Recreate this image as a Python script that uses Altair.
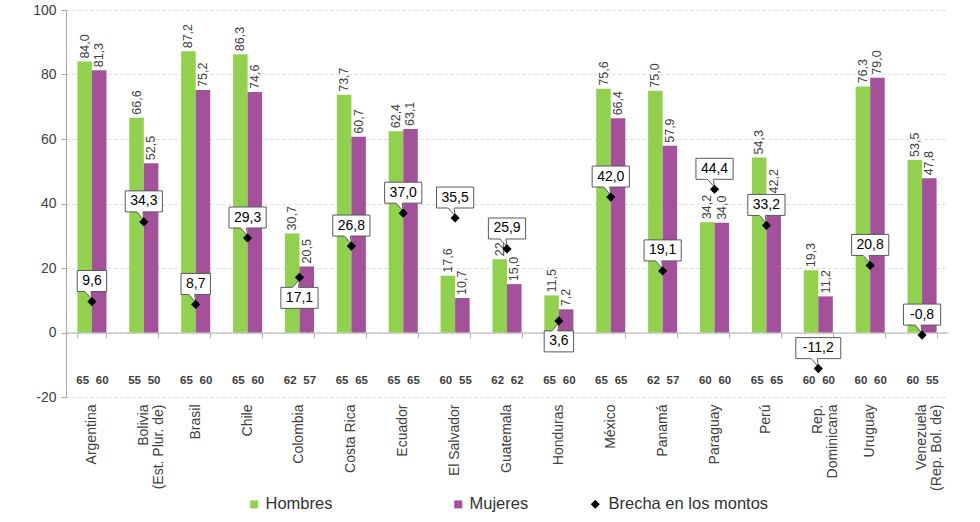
import altair as alt
import pandas as pd

paises = ["Argentina", "Bolivia (Est. Plur. de)", "Brasil", "Chile", "Colombia",
          "Costa Rica", "Ecuador", "El Salvador", "Guatemala", "Honduras", "México",
          "Panamá", "Paraguay", "Perú", "Rep. Dominicana", "Uruguay",
          "Venezuela (Rep. Bol. de)"]
hombres = [84.0, 66.6, 87.2, 86.3, 30.7, 73.7, 62.4, 17.6, 22.7, 11.5, 75.6, 75.0,
           34.2, 54.3, 19.3, 76.3, 53.5]
mujeres = [81.3, 52.5, 75.2, 74.6, 20.5, 60.7, 63.1, 10.7, 15.0, 7.2, 66.4, 57.9,
           34.0, 42.2, 11.2, 79.0, 47.8]
brecha = [9.6, 34.3, 8.7, 29.3, 17.1, 26.8, 37.0, 35.5, 25.9, 3.6, 42.0, 19.1,
          44.4, 33.2, -11.2, 20.8, -0.8]
edad_hombres = [65, 55, 65, 65, 62, 65, 65, 60, 62, 65, 65, 62, 60, 65, 60, 60, 60]
edad_mujeres = [60, 50, 60, 60, 57, 65, 65, 55, 62, 60, 65, 57, 60, 65, 60, 60, 55]
yticks = [-20, 0, 20, 40, 60, 80, 100]

GREEN = "#92D050"
PURPLE = "#A4519B"
TXT = "#404040"
FONT = "Liberation Sans"

n = len(paises)
barras = pd.DataFrame({
    "pais": paises * 2,
    "sexo": ["Hombres"] * n + ["Mujeres"] * n,
    "valor": hombres + mujeres,
    "edad": edad_hombres + edad_mujeres,
})
brechas = pd.DataFrame({"pais": paises, "brecha": brecha})

label_expr = ("datum.label == 'Rep. Dominicana' ? ['Rep.', 'Dominicana'] : "
              "(indexof(datum.label, ' (') > 0 ? "
              "[slice(datum.label, 0, indexof(datum.label, ' (')), "
              "slice(datum.label, indexof(datum.label, ' (') + 1)] : datum.label)")

x_main = alt.X("pais:N", sort=paises,
               scale=alt.Scale(paddingInner=0.44, paddingOuter=0.22),
               axis=alt.Axis(orient="bottom", labelAngle=270, labelAlign="right",
                             labelBaseline="middle", labelPadding=7, labelFontSize=14,
                             labelColor=TXT, labelFont=FONT, ticks=False, domain=False,
                             grid=False, title=None, labelExpr=label_expr,
                             labelLimit=200, labelLineHeight=15))
x_plain = alt.X("pais:N", sort=paises, axis=None)
x_zero = alt.X("pais:N", sort=paises,
               axis=alt.Axis(orient="bottom", offset=-64.5, labels=False, ticks=True,
                             tickBand="extent", domain=True, domainColor="#b0b0b0",
                             tickColor="#b0b0b0", tickSize=5, grid=False, title=None))
xoff = alt.XOffset("sexo:N", sort=["Hombres", "Mujeres"],
                   scale=alt.Scale(paddingInner=0, paddingOuter=0))

y_main = alt.Y("valor:Q", scale=alt.Scale(domain=[-20, 100], nice=False),
               axis=alt.Axis(values=yticks, grid=True, gridDash=[3, 3],
                             gridColor="#d9d9d9", domainColor="#a6a6a6",
                             tickColor="#a6a6a6", tickSize=5, labelFontSize=14,
                             labelColor=TXT, labelFont=FONT, labelPadding=5,
                             labelExpr="toString(datum.value)", title=None))

bars = alt.Chart(barras).mark_bar().encode(
    x=x_main, xOffset=xoff, y=y_main,
    color=alt.Color("sexo:N",
                    scale=alt.Scale(domain=["Hombres", "Mujeres"], range=[GREEN, PURPLE]),
                    legend=alt.Legend(orient="none", legendX=180, legendY=486,
                                      direction="horizontal", title=None,
                                      symbolType="square", symbolSize=64,
                                      symbolStrokeWidth=0, labelFontSize=16.5,
                                      labelFont=FONT, labelColor="#333333",
                                      columnPadding=117, labelOffset=3)),
)

vals = alt.Chart(barras).transform_calculate(
    lab="replace(format(datum.valor, '.1f'), '.', ',')"
).mark_text(angle=270, align="left", baseline="middle", dx=3, fontSize=12.5,
            color=TXT, font=FONT).encode(
    x=x_plain, xOffset=xoff, y=alt.Y("valor:Q", title=None), text="lab:N")

ages_h = alt.Chart(barras).transform_filter("datum.sexo == 'Hombres'").mark_text(
    fontSize=11.5, fontWeight="bold", color=TXT, baseline="middle", font=FONT, dx=-2
).encode(x=x_zero, xOffset=xoff, y=alt.datum(-15), text="edad:N")

ages_m = alt.Chart(barras).transform_filter("datum.sexo == 'Mujeres'").mark_text(
    fontSize=11.5, fontWeight="bold", color=TXT, baseline="middle", font=FONT, dx=3
).encode(x=x_plain, xOffset=xoff, y=alt.datum(-15), text="edad:N")

fmt = "replace(replace(format(datum.brecha, '.1f'), '.', ','), '\u2212', '-')"
abajo = "(datum.pais == 'Colombia' || datum.pais == 'Honduras')"

boxes = alt.Chart(brechas).transform_calculate(
    lab=fmt,
    s=abajo + " ? 1 : -1",
).transform_calculate(
    hw="(length(datum.lab) * 7.8 + 6) / 100"
).transform_calculate(
    path=("'M' + (-datum.hw) + ',' + (datum.s * 0.62) + 'L' + datum.hw + ',' + (datum.s * 0.62)"
          " + 'L' + datum.hw + ',' + (datum.s * 0.2) + 'L-0.02,' + (datum.s * 0.2)"
          " + 'L0,' + (datum.s * 0.04) + 'L-0.14,' + (datum.s * 0.2)"
          " + 'L' + (-datum.hw) + ',' + (datum.s * 0.2) + 'Z'")
).mark_point(filled=True, fill="white", stroke="#595959", strokeWidth=1,
             size=10000, opacity=1).encode(
    x=x_plain, y=alt.Y("brecha:Q", title=None),
    shape=alt.Shape("path:N", scale=None, legend=None))

diam = alt.Chart(brechas).transform_calculate(
    serie="'Brecha en los montos'"
).mark_point(filled=True, color="black", size=85, opacity=1).encode(
    x=x_plain, y=alt.Y("brecha:Q", title=None),
    shape=alt.Shape("serie:N",
                    scale=alt.Scale(domain=["Brecha en los montos"], range=["diamond"]),
                    legend=alt.Legend(orient="none", legendX=521, legendY=486,
                                      title=None, symbolSize=81,
                                      symbolFillColor="black", symbolStrokeColor="black",
                                      symbolStrokeWidth=0, labelFontSize=16.5,
                                      labelFont=FONT, labelColor="#333333",
                                      labelOffset=5)))

txt_up = alt.Chart(brechas).transform_calculate(lab=fmt).transform_filter(
    "!" + abajo
).mark_text(dy=-20.5, fontSize=14, color="black", baseline="middle", font=FONT).encode(
    x=x_plain, y=alt.Y("brecha:Q", title=None), text="lab:N")

txt_down = alt.Chart(brechas).transform_calculate(lab=fmt).transform_filter(
    abajo
).mark_text(dy=20.5, fontSize=14, color="black", baseline="middle", font=FONT).encode(
    x=x_plain, y=alt.Y("brecha:Q", title=None), text="lab:N")

chart = alt.layer(bars, vals, ages_h, ages_m, boxes, diam, txt_up, txt_down).resolve_scale(
    shape="independent"
).resolve_axis(x="independent").properties(
    width=882, height=387,
    padding={"left": 66, "top": 10, "right": 32, "bottom": 125},
    autosize=alt.AutoSizeParams(type="none"),
).configure(font=FONT).configure_view(stroke=None)

chart.save("out.html", embed_options={"renderer": "svg", "actions": False})
